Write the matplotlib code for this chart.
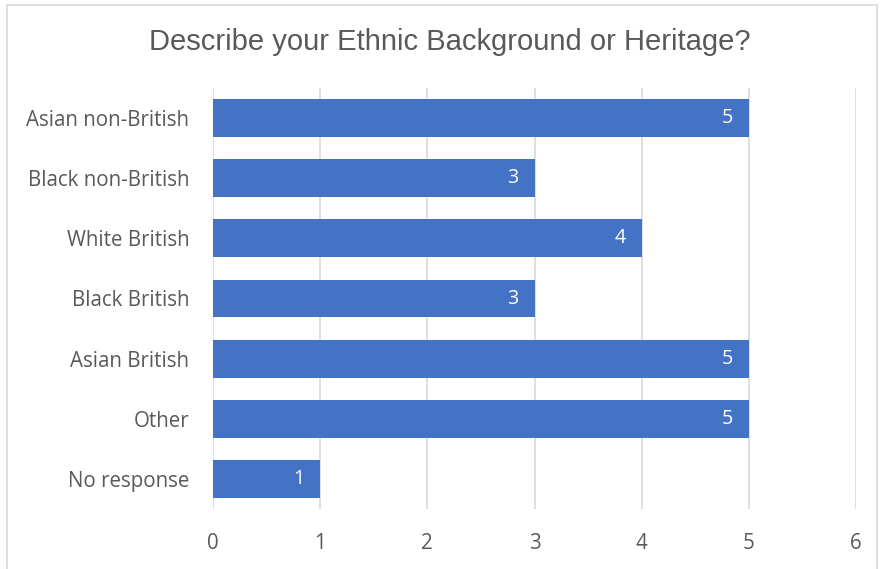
import matplotlib
matplotlib.use("Agg")
import matplotlib.pyplot as plt
from matplotlib.patches import Rectangle

categories = ["Asian non-British", "Black non-British", "White British",
              "Black British", "Asian British", "Other", "No response"]
counts = [5, 3, 4, 3, 5, 5, 1]
xticks = [0, 1, 2, 3, 4, 5, 6]

fig = plt.figure(figsize=(8.83, 5.69), dpi=100)
fig.patch.set_facecolor("white")
# light chart border
fig.patches.append(Rectangle((7/883, -0.01), 870/883, 1 - 5/569 + 0.01,
                             transform=fig.transFigure, fill=False,
                             edgecolor="#d9d9d9", linewidth=1.2))

ax = fig.add_axes([213/883, 60/569, 643/883, 421/569])
ypos = list(range(len(categories)))
bars = ax.barh(ypos, counts, height=0.63, color="#4472C4", zorder=3)
ax.set_ylim(len(categories) - 0.5, -0.5)
ax.set_xlim(0, 6)
ax.set_xticks(xticks)
ax.set_yticks(ypos)
ax.set_yticklabels(categories)
ax.grid(axis="x", color="#d9d9d9", linewidth=1.2, zorder=0)
for s in ax.spines.values():
    s.set_visible(False)
ax.tick_params(length=0, labelsize=14.8, colors="#595959")
ax.tick_params(axis="y", pad=17)
ax.tick_params(axis="x", pad=17)
for lab in ax.get_xticklabels() + ax.get_yticklabels():
    lab.set_family("Open Sans")

for b, v in zip(bars, counts):
    ax.text(v - 0.2, b.get_y() + b.get_height() / 2, str(v), color="white",
            ha="center", va="center", fontsize=14.2, family="Open Sans", zorder=4)

fig.text(450/883, 1 - 42/569, "Describe your Ethnic Background or Heritage?",
         ha="center", va="center", fontsize=21, color="#595959",
         family="Liberation Sans")

fig.savefig("out.png", dpi=100)
